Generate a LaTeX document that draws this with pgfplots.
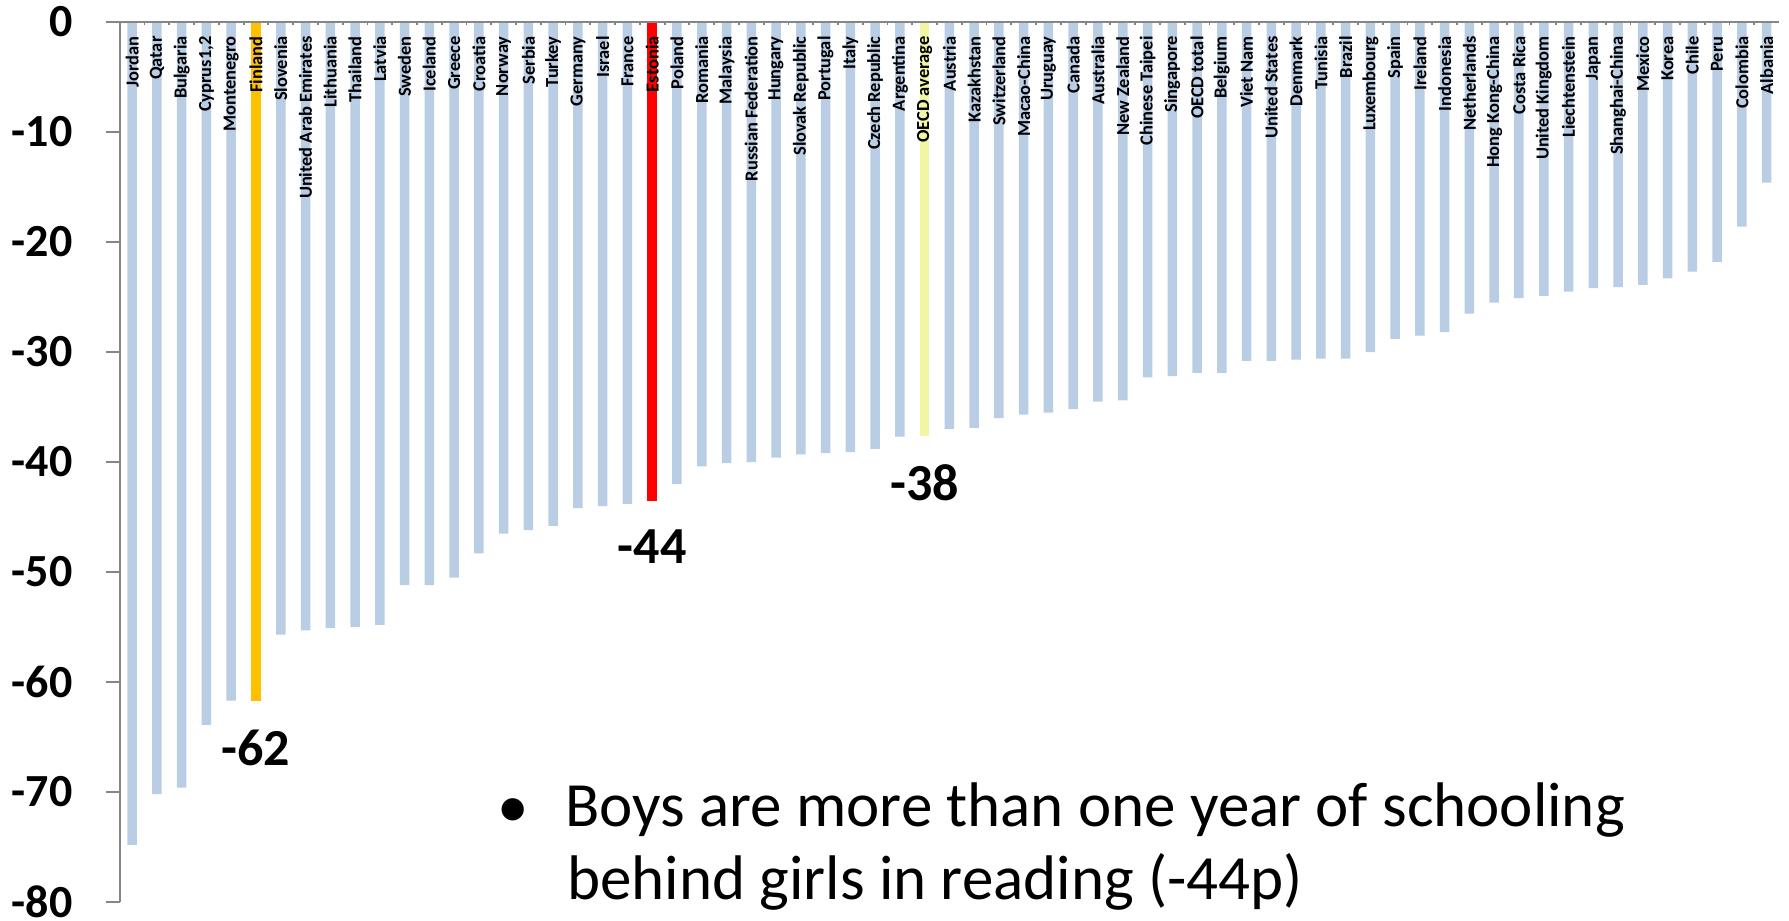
\documentclass[border=0pt]{standalone}
\usepackage{pgfplots}
\pgfplotsset{compat=1.18}
\usepackage{fontspec}
\setmainfont{Carlito}

\definecolor{barblue}{RGB}{185,205,229}
\definecolor{finorange}{RGB}{255,192,0}
\definecolor{estred}{RGB}{255,0,0}
\definecolor{oecdyellow}{RGB}{242,245,162}
\definecolor{axisgray}{RGB}{134,134,134}

\begin{document}
\begin{tikzpicture}
  \begin{axis}[
      scale only axis, width=829.6pt, height=440pt,
      xmin=-0.5, xmax=66.5, ymin=-80, ymax=0,
      axis on top,
      axis x line*=top, axis y line*=left,
      axis line style={draw=axisgray, line width=0.9pt},
      ybar, bar width=4.75pt,
      xtick={0,...,66},
      xticklabels={Jordan, Qatar, Bulgaria, {Cyprus1,2}, Montenegro, Finland,
        Slovenia, United Arab Emirates, Lithuania, Thailand, Latvia, Sweden,
        Iceland, Greece, Croatia, Norway, Serbia, Turkey, Germany, Israel,
        France, Estonia, Poland, Romania, Malaysia, Russian Federation,
        Hungary, Slovak Republic, Portugal, Italy, Czech Republic, Argentina,
        OECD average, Austria, Kazakhstan, Switzerland, Macao-China, Uruguay,
        Canada, Australia, New Zealand, Chinese Taipei, Singapore, OECD total,
        Belgium, Viet Nam, United States, Denmark, Tunisia, Brazil, Luxembourg,
        Spain, Ireland, Indonesia, Netherlands, Hong Kong-China, Costa Rica,
        United Kingdom, Liechtenstein, Japan, Shanghai-China, Mexico, Korea,
        Chile, Peru, Colombia, Albania},
      minor x tick num=1,
      major x tick style={draw=none},
      minor x tick style={draw=axisgray, line width=0.9pt},
      ytick={-80,-70,...,0},
      ytick style={draw=axisgray, line width=0.9pt},
      major tick length=7pt, minor tick length=1.5pt,
      xtick align=inside, ytick align=outside,
      xticklabel style={font=\bfseries\fontsize{9.2}{10}\selectfont,
        yshift=-7pt, rotate=90, anchor=east, inner sep=0pt},
      yticklabel style={font=\bfseries\fontsize{23}{24}\selectfont,
        anchor=east, inner sep=0pt, xshift=-16.4pt},
      /pgf/number format/assume math mode=true,
      point meta=explicit symbolic,
      nodes near coords style={font=\bfseries\fontsize{26}{28}\selectfont,
        anchor=north, inner sep=0pt, yshift=-14.5pt},
    ]
    % all countries except the three highlighted bars
    \addplot[fill=barblue, draw=none, bar shift=0pt] coordinates {
      (0,-74.8) (1,-70.2) (2,-69.6) (3,-63.9) (4,-61.7)
      (6,-55.7) (7,-55.3) (8,-55.1) (9,-55.0) (10,-54.8) (11,-51.2) (12,-51.2)
      (13,-50.5) (14,-48.3) (15,-46.5) (16,-46.2) (17,-45.8) (18,-44.2)
      (19,-44.0) (20,-43.8) (22,-42.0) (23,-40.4) (24,-40.1) (25,-40.0)
      (26,-39.6) (27,-39.3) (28,-39.2) (29,-39.1) (30,-38.8) (31,-37.7)
      (33,-37.0) (34,-36.9) (35,-36.0) (36,-35.7) (37,-35.5) (38,-35.2)
      (39,-34.5) (40,-34.4) (41,-32.3) (42,-32.2) (43,-31.9) (44,-31.9)
      (45,-30.8) (46,-30.8) (47,-30.7) (48,-30.6) (49,-30.6) (50,-30.0)
      (51,-28.8) (52,-28.5) (53,-28.2) (54,-26.5) (55,-25.5) (56,-25.1)
      (57,-24.9) (58,-24.5) (59,-24.2) (60,-24.1) (61,-23.9) (62,-23.3)
      (63,-22.7) (64,-21.8) (65,-18.6) (66,-14.6)
    };
    % Finland
    \addplot[fill=finorange, draw=none, bar shift=0pt, nodes near coords]
      coordinates {(5,-61.7) [-62]};
    % Estonia
    \addplot[fill=estred, draw=none, bar shift=0pt, nodes near coords]
      coordinates {(21,-43.5) [-44]};
    % OECD average
    \addplot[fill=oecdyellow, draw=none, bar shift=0pt, nodes near coords]
      coordinates {(32,-37.6) [-38]};
  \end{axis}
  \node[inner sep=0pt, font=\fontsize{31.5}{36}\selectfont] at (196.6pt,44.5pt) {•};
  \node[anchor=base west, inner sep=0pt, font=\fontsize{31.5}{36}\selectfont]
    at (222.6pt,37.65pt) {Boys are more than one year of schooling};
  \node[anchor=base west, inner sep=0pt, font=\fontsize{31.5}{36}\selectfont]
    at (223.6pt,1pt) {behind girls in reading (-44p)};
  \pgfresetboundingbox
  \path[use as bounding box] (-59.9pt,-9.5pt) rectangle (834.6pt,451pt);
\end{tikzpicture}
\end{document}
